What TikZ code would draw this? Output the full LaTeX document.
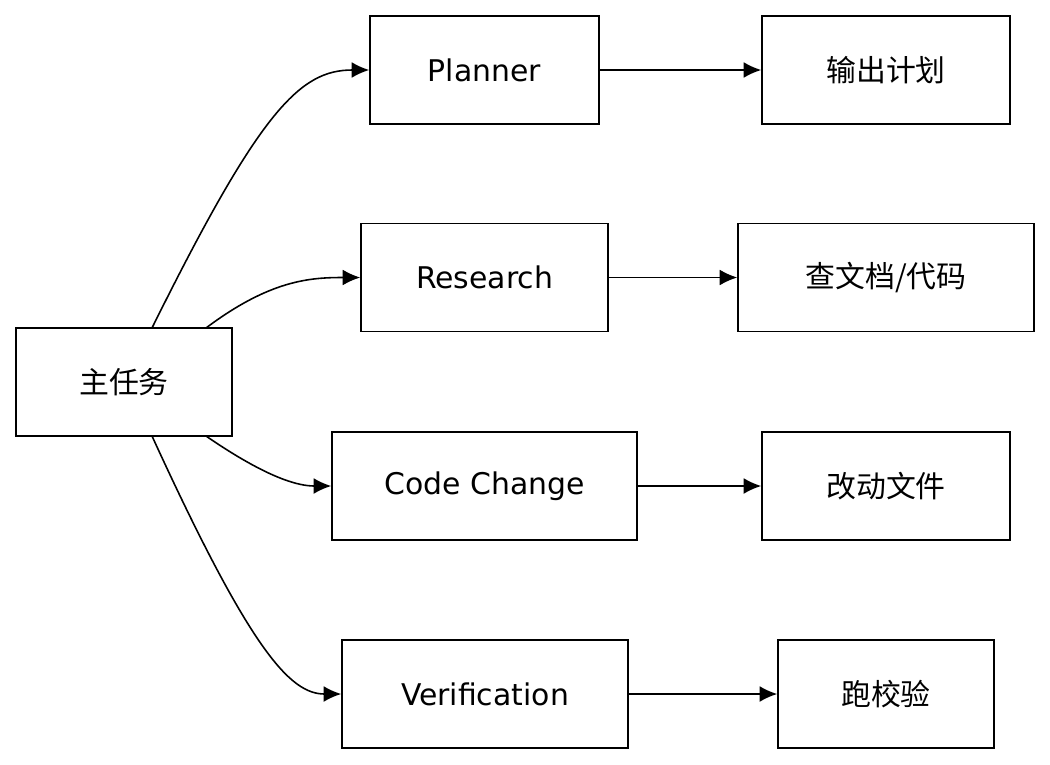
\documentclass[tikz,border=0pt]{standalone}
\usepackage{fontspec}
\setmainfont{DejaVu Sans}
\newfontfamily\cjk{Noto Sans CJK SC}
\usetikzlibrary{arrows.meta,positioning}

\begin{document}
\begin{tikzpicture}[
      x=0.02cm, y=-0.02cm,
      mybox/.style={
         rectangle,
         draw=black,
         line width=0.9pt,
         inner sep=0pt,
         minimum height=2.16cm,
         font=\fontsize{17}{20}\selectfont},
      myarrow/.style={-{Latex[length=10pt,width=9pt]}, line width=0.9pt}
      ]
      \useasboundingbox (0,0) rectangle (1050,764);
      \node[mybox,minimum width=4.32cm] (main) at (124,382) {\cjk 主任务};
      \node[mybox,minimum width=4.58cm] (plan) at (484.5,70) {Planner};
      \node[mybox,minimum width=4.94cm] (res) at (484.5,277.5) {Research};
      \node[mybox,minimum width=6.10cm] (code) at (484.5,486) {Code Change};
      \node[mybox,minimum width=5.72cm] (ver) at (485,694) {Verification};
      \node[mybox,minimum width=4.96cm] (out1) at (886,70) {\cjk 输出计划};
      \node[mybox,minimum width=5.92cm] (out2) at (886,277.5) {\cjk 查文档/代码};
      \node[mybox,minimum width=4.96cm] (out3) at (886,486) {\cjk 改动文件};
      \node[mybox,minimum width=4.32cm] (out4) at (886,694) {\cjk 跑校验};

    \coordinate (a1) at (152,328);
    \coordinate (a2) at (206,328);
    \coordinate (a3) at (206,436);
    \coordinate (a4) at (152,436);
    \draw[myarrow] (a1) .. controls (260,110) and (300,70) .. (plan.west);
    \draw[myarrow] (a2) .. controls (270,280) and (310,277.5) .. (res.west);
    \draw[myarrow] (a3) .. controls (270,480) and (300,486) .. (code.west);
    \draw[myarrow] (a4) .. controls (250,650) and (290,694) .. (ver.west);

    \foreach \i/\j in {plan/out1, res/out2, code/out3, ver/out4}
       \draw[myarrow] (\i) -- (\j);

\end{tikzpicture}
\end{document}
